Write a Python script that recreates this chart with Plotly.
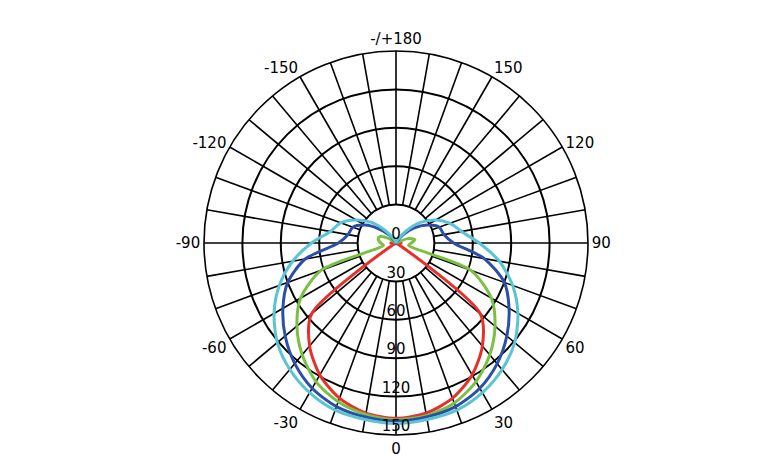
import plotly.graph_objects as go

angles = [-180,-170,-160,-150,-140,-130,-120,-110,-100,-90,-80,-70,-60,-50,-40,-30,-20,-10,0,10,20,30,40,50,60,70,80,90,100,110,120,130,140,150,160,170,180]
red   = [0,0,0,0,0,0,0,0,2,4,2,0,3,86,105,119,129,135,137,135,129,119,105,86,3,0,2,4,2,0,0,0,0,0,0,0,0]
green = [0,0,0,0,0,0,8,14,14,12,10,62,86,101,114,125,132,136,138,137,133,125,114,101,86,62,10,12,15,10,0,0,0,0,0,0,0]
blue  = [0,0,0,0,8,17,28,36,38,45,72,90,102,113,123,131,136,138,139,138,136,131,123,113,102,90,70,45,38,36,28,18,8,0,0,0,0]
cyan  = [0,0,0,3,12,25,36,46,52,66,82,97,110,121,129,135,139,140,141,140,139,135,129,121,110,97,82,65,52,45,36,25,12,3,0,0,0]
tick_vals = [0,30,60,90,120,150,180,210,240,270,300,330]
tick_text = ["0","30","60","90","120","150","-/+180","-150","-120","-90","-60","-30"]
radial_vals = [0,30,60,90,120,150]

fig = go.Figure()
for a in range(0,360,10):
    fig.add_trace(go.Scatterpolar(r=[30,150], theta=[a,a], mode="lines",
                                  line=dict(color="black", width=1.6), hoverinfo="skip", showlegend=False))
for vals, col in [(red,"#e8302a"),(green,"#7ac143"),(blue,"#2b4fa8"),(cyan,"#5bc4d4")]:
    fig.add_trace(go.Scatterpolar(r=vals, theta=angles, mode="lines",
                                  line=dict(color=col, width=3, shape="spline", smoothing=0.8),
                                  showlegend=False))
fig.add_trace(go.Scatterpolar(r=radial_vals, theta=[0]*len(radial_vals), mode="text",
                              text=[str(v) for v in radial_vals], textposition="top center",
                              textfont=dict(size=15, color="black", family="DejaVu Sans"),
                              showlegend=False, hoverinfo="skip"))
fig.update_layout(
    width=782, height=468, paper_bgcolor="white", plot_bgcolor="white",
    margin=dict(l=0, r=0, t=0, b=0),
    font=dict(family="DejaVu Sans", size=15, color="black"),
    polar=dict(
        domain=dict(x=[0.2506, 0.7417], y=[0.0876, 0.9081]),
        bgcolor="white",
        radialaxis=dict(range=[0,150], tickvals=radial_vals, showticklabels=False, ticks="",
                        showline=False, gridcolor="black", gridwidth=1.6),
        angularaxis=dict(rotation=-90, direction="counterclockwise", tickvals=tick_vals,
                         ticktext=tick_text, showgrid=False, ticks="", linecolor="black",
                         linewidth=1.6),
    ),
)
fig.write_html("out.html")
